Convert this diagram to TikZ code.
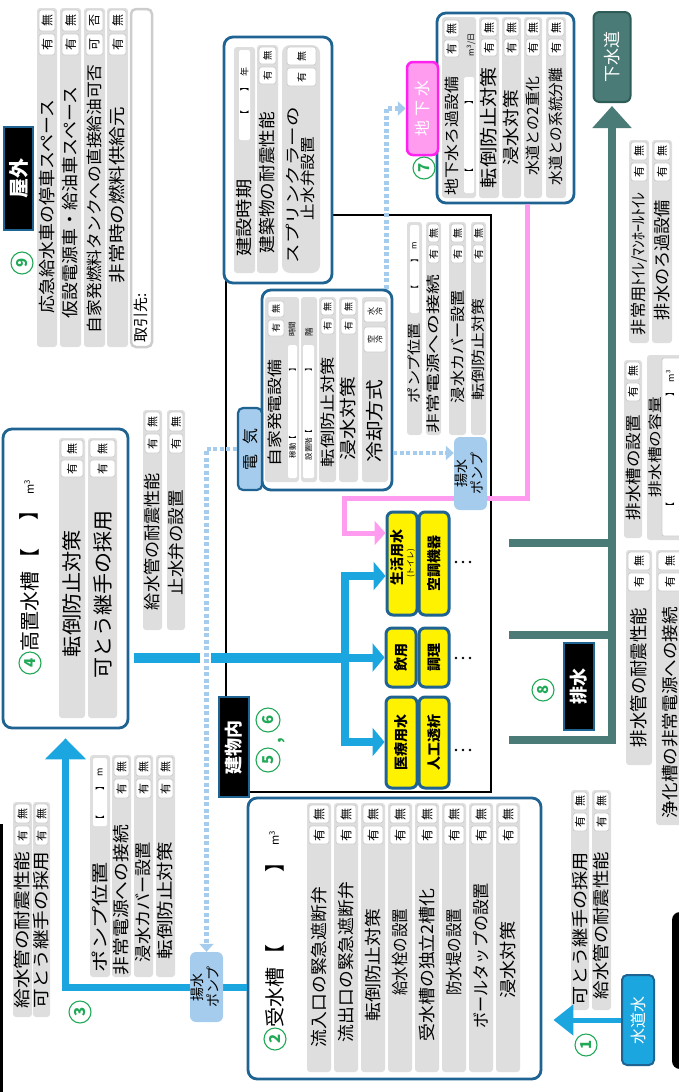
\documentclass[tikz,border=0pt]{standalone}
\usepackage{fontspec}
\setmainfont{Noto Sans CJK JP}
\usetikzlibrary{arrows.meta,calc}
\definecolor{tealb}{HTML}{1E6391}
\definecolor{blu}{HTML}{1CA6DF}
\definecolor{lblu}{HTML}{A5CCEC}
\definecolor{barc}{HTML}{DEDEDE}
\definecolor{ynbc}{HTML}{CDCDCD}
\definecolor{drain}{HTML}{4A7B76}
\definecolor{drainD}{HTML}{2E5D58}
\definecolor{pnk}{HTML}{FF9CF0}
\definecolor{mag}{HTML}{FF22EE}
\definecolor{grn}{HTML}{21A957}
\newcommand\fsz[1]{\fontsize{#1pt}{#1pt}\selectfont}
\newcommand\stx[3]{\resizebox{#1pt}{\height}{\fsz{#2}#3}}
\newcommand\rtx[1]{\rotatebox{90}{#1}}
\def\ynh{18}\def\ynf{9}\def\yesw{有}\def\nowd{無}
\newcommand\ynpair[3]{%
  \draw[ynbx] ({#1},{#3+2}) rectangle ({#2},{#3+2+\ynh});
  \node[rot] at ({(#1+#2)/2},{#3+2+\ynh/2}) {\fsz{\ynf}\nowd};
  \draw[ynbx] ({#1},{#3+5+\ynh}) rectangle ({#2},{#3+5+2*\ynh});
  \node[rot] at ({(#1+#2)/2},{#3+5+1.5*\ynh}) {\fsz{\ynf}\yesw};}
\newcommand\ynbar[8]{%
  \fill[barc, rounded corners=3pt] (#1,#3) rectangle (#2,#4);
  \ynpair{#1+2}{#2-2}{#3}
  \node[rot] at ({(#1+#2)/2},#7) {\stx{#6}{#5}{#8}};}
\tikzset{
  rot/.style={rotate=90, inner sep=0pt},
  frm/.style={draw=tealb, line width=2.8pt, rounded corners=9pt, fill=white, inner sep=0pt},
  lblbox/.style={fill=black, draw=tealb, line width=2.4pt, text=white, inner sep=0pt},
  ybox/.style={draw=tealb, line width=3pt, fill=yellow, rounded corners=6pt, inner sep=0pt},
  pumpbox/.style={fill=lblu, rounded corners=6pt, inner sep=0pt},
  num/.style={circle, draw=grn, line width=1.1pt, text=grn, inner sep=0pt, minimum size=22pt, rotate=90, font=\bfseries\fsz{15}},
  ynbx/.style={fill=white, draw=ynbc, line width=0.8pt, rounded corners=2.5pt},
  elec/.style={draw=lblu, line width=4.5pt, dash pattern=on 4pt off 2.5pt},
  bline/.style={draw=blu, line width=#1},
  arw/.style args={#1/#2}{-{Triangle[length=#1pt,width=#2pt]}},
}
\begin{document}
\begin{tikzpicture}[x=1pt,y=-1pt]
\useasboundingbox (0,0) rectangle (679,1092);
% edge artifacts
\draw[line width=3pt] (1.5,824) -- (1.5,1092);
\fill[rounded corners=8pt] (672,912) rectangle (700,1069);

% ===== 9 outdoor
\node[lblbox, minimum width=29pt, minimum height=103pt] (okugai) at (18.5,178.5) {\rtx{\fsz{20}\bfseries 屋外}};
\node[num] (n9) at (22,263) {9};
\def\ynh{21}\def\ynf{12}
\ynbar{37}{57}{8}{347}{17}{213}{206.5}{応急給水車の停車スペース}
\ynbar{60}{81}{8}{347}{17}{231}{202.5}{仮設電源車・給油車スペース}
\def\yesw{可}\def\nowd{否}
\ynbar{84}{105}{8}{347}{16}{268}{199}{自家発燃料タンクへの直接給油可否}
\def\yesw{有}\def\nowd{無}
\ynbar{107}{128}{8}{347}{17}{176}{195}{非常時の燃料供給元}
\draw[draw=ynbc, line width=2.5pt, fill=white, rounded corners=5pt] (131,9) rectangle (152,347);
\node[rot] (tori) at (141,318) {\fsz{15}取引先:};

% ===== building
\draw[line width=2.5pt] (226,215) rectangle (491,792);
\node[frm, minimum width=108pt, minimum height=246pt] (settei) at (278,160) {};
\fill[barc, rounded corners=3pt] (234,47) rectangle (255,273);
\fill[white, rounded corners=2pt] (239,50) rectangle (250,140);
\node[rot] at (244.5,72) {\fsz{9}年};
\node[rot] at (244.5,87) {\fsz{9}】};
\node[rot] at (244.5,115) {\fsz{9}【};
\node[rot] at (244.5,218) {\stx{77}{17}{建設時期}};
\def\ynh{17}\def\ynf{9.5}
\ynbar{257}{278}{45}{273}{17}{141}{182.5}{建築物の耐震性能}
\fill[barc, rounded corners=8pt] (282,45) rectangle (320,273);
\def\ynh{18}\def\ynf{10}
\ynpair{287}{316}{45}
\node[rot] at (293,185) {\stx{156}{15}{スプリンクラーの}};
\node[rot] at (308,178.5) {\stx{83}{15}{止水弁設置}};

\node[lblbox, minimum width=30pt, minimum height=100pt] (tatemono) at (234,747) {\rtx{\fsz{18}\bfseries 建物内}};
\node[num, minimum size=24pt] (n6) at (268,720) {6};
\node[num, minimum size=24pt] (n5) at (268,760) {5};
\node[rot, text=grn] (comma) at (282,741) {\fsz{16}\bfseries ,};

% generator
\node[frm, minimum width=130pt, minimum height=200pt] (gen) at (327,390) {};
\node[draw=tealb, line width=2.2pt, fill=lblu, rounded corners=5pt, minimum width=24pt, minimum height=82pt, inner sep=0pt] (denki) at (250,449) {\rtx{\fsz{16}電\hspace{10pt}気}};
\fill[barc, rounded corners=3pt] (265,297) rectangle (299,482);
\def\ynh{16}\def\ynf{9}
\ynpair{268}{284}{299}
\node[rot] at (275,413) {\stx{107}{15}{自家発電設備}};
\node[rot] at (292,329) {\fsz{7.5}時間};
\fill[white, rounded corners=1.5pt] (288,345) rectangle (297,478);
\node[rot] at (292.5,368) {\fsz{7.5}】};
\node[rot] at (292.5,447) {\fsz{7.5}稼動【};
\fill[barc, rounded corners=3pt] (301,297) rectangle (317,482);
\node[rot] at (309,332) {\fsz{8.5}階};
\fill[white, rounded corners=1.5pt] (303,345) rectangle (314,478);
\node[rot] at (308.5,368) {\fsz{7.5}】};
\node[rot] at (308.5,445) {\fsz{7.5}設置階【};
\ynbar{319}{336}{297}{482}{15}{110}{412}{転倒防止対策}
\ynbar{339}{358}{297}{482}{17}{83}{418.5}{浸水対策}
\fill[barc, rounded corners=3pt] (362,297) rectangle (388,482);
\draw[ynbx] (364,301) rectangle (386,322);
\node[rot, align=center, font=\fsz{8}] at (375,311.5) {水\\冷};
\draw[ynbx] (364,327) rectangle (386,352);
\node[rot, align=center, font=\fsz{8}] at (375,339.5) {空\\冷};
\node[rot] at (375,421) {\stx{83}{18}{冷却方式}};

% building pump group
\def\ynh{18}\def\ynf{10}
\fill[barc, rounded corners=3pt] (407,222) rectangle (422,435);
\fill[white, rounded corners=1.5pt] (410,225) rectangle (419,313);
\node[rot] at (414.5,246) {\fsz{8}m};
\node[rot] at (414.5,258) {\fsz{8}】};
\node[rot] at (414.5,289) {\fsz{8}【};
\node[rot] at (414.5,363) {\stx{80}{14}{ポンプ位置}};
\ynbar{426}{441}{222}{435}{14}{158}{354}{非常電源への接続}
\ynbar{449}{466}{222}{435}{15}{113}{346.5}{浸水カバー設置}
\ynbar{471}{486}{222}{435}{14}{102}{349}{転倒防止対策}

% yellow boxes
\node[ybox, minimum width=30pt, minimum height=103pt] (y1) at (402,563.5) {};
\node[rot] (y1a) at (397,557) {\fsz{14}\bfseries 生活用水};
\node[rot] (y1b) at (411,563) {\fsz{8}(トイレ)};
\node[ybox, minimum width=30pt, minimum height=103pt] (y2) at (434,563.5) {\rtx{\fsz{14}\bfseries 空調機器}};
\node[ybox, minimum width=30pt, minimum height=59pt] (y3) at (401,657.5) {\rtx{\fsz{14}\bfseries 飲用}};
\node[ybox, minimum width=30pt, minimum height=59pt] (y4) at (434,657.5) {\rtx{\fsz{14}\bfseries 調理}};
\node[ybox, minimum width=31pt, minimum height=91pt] (y5) at (401.5,742.5) {\rtx{\fsz{14}\bfseries 医療用水}};
\node[ybox, minimum width=30pt, minimum height=91pt] (y6) at (434,742.5) {\rtx{\fsz{14}\bfseries 人工透析}};
\foreach \yy in {562,658,750} { \foreach \xx in {456,463,470} { \fill (\xx,\yy) circle (1.4pt); } }

% ===== 7 groundwater
\node[frm, minimum width=137pt, minimum height=190pt] (chika) at (505.5,108) {};
\def\ynh{17}\def\ynf{11}
\fill[barc, rounded corners=3pt] (442,17) rectangle (476,198);
\ynpair{444}{459}{18}
\fill[white, rounded corners=1.5pt] (464,77) rectangle (474,193);
\node[rot] at (469,173) {\fsz{9}【};
\node[rot] at (469,100) {\fsz{9}】};
\node[rot] at (471,45) {\fsz{8}m\textsuperscript{3}/日};
\node[rot] at (452,136) {\stx{118}{15}{地下水ろ過設備}};
\ynbar{479}{499}{17}{198}{18}{121}{127.5}{転倒防止対策}
\ynbar{502}{521}{17}{198}{17}{75}{127.5}{浸水対策}
\ynbar{524}{542}{17}{198}{15}{98}{126}{水道との2重化}
\ynbar{546}{566}{17}{198}{15}{117}{126.5}{水道との系統分離}
\node[fill=pnk, draw=mag, line width=2.5pt, rounded corners=6pt, minimum width=31pt, minimum height=93pt, inner sep=0pt] (chikasui) at (422.5,108.5) {\rtx{\fsz{16}\color{white}地\hspace{4pt}下\hspace{4pt}水}};
\node[num] (n7) at (424,168) {7};

% ===== 8 drainage
\node[fill=drain, draw=drainD, line width=2pt, rounded corners=6pt, minimum width=37pt, minimum height=90pt, inner sep=0pt, text=white] (gesui) at (612,57) {\rtx{\fsz{17}下水道}};
\coordinate (d1) at (509,543); \coordinate (d2) at (509,635); \coordinate (d3) at (509,740);
\draw[draw=drain, line width=8pt, arw=22/38] (d3) -| ($(gesui.south)+(0,3)$);
\draw[draw=drain, line width=8pt] (d1) -- (d1 -| gesui.south);
\draw[draw=drain, line width=8pt] (d2) -- (d2 -| gesui.south);
\node[lblbox, minimum width=30pt, minimum height=87pt] (haisui) at (579,686.5) {\rtx{\fsz{18}\bfseries 排水}};
\node[num] (n8) at (543,690) {8};
\def\ynh{18}\def\ynf{11}
\ynbar{629}{649}{140}{343}{16}{143}{263.5}{非常用ﾄｲﾚ/ﾏﾝﾎｰﾙﾄｲﾚ}
\ynbar{652}{672}{140}{343}{17}{120}{260}{排水のろ過設備}
\ynbar{624}{642}{360}{538}{16}{105}{467.5}{排水槽の設置}
\fill[barc, rounded corners=3pt] (647,355) rectangle (690,540);
\draw[fill=white, draw=ynbc, line width=0.8pt, rounded corners=2pt] (662,358) rectangle (685,536);
\node[rot] at (670,376) {\fsz{9}m\textsuperscript{3}};
\node[rot] at (670,392) {\fsz{9}】};
\node[rot] at (670,507) {\fsz{9}【};
\node[rot] at (655,447) {\stx{100}{14}{排水槽の容量}};
\ynbar{626}{652}{550}{765}{18}{139}{677.5}{排水管の耐震性能}
\ynbar{656}{684}{550}{825}{17}{211}{712.5}{浄化槽の非常電源への接続}

% ===== 2 receiving tank
\node[frm, minimum width=293pt, minimum height=281pt] (jusui) at (394.5,938.5) {};
\node[num] (n2) at (275,1039) {2};
\node[rot, anchor=west] (jt) at (275,1028) {\fsz{20}受水槽\hspace{3pt}【};
\node[rot] at (275,862) {\fsz{20}】};
\node[rot] at (274,838) {\fsz{11}m\textsuperscript{3}};
\def\ynh{18}\def\ynf{12}
\ynbar{307}{331}{803}{1072}{17}{160}{967}{流入口の緊急遮断弁}
\ynbar{334}{358}{803}{1072}{17}{160}{962}{流出口の緊急遮断弁}
\ynbar{361}{385}{803}{1072}{17}{113}{965}{転倒防止対策}
\ynbar{388}{412}{803}{1072}{17}{87}{952}{給水栓の設置}
\ynbar{415}{439}{803}{1072}{17}{153}{965}{受水槽の独立2槽化}
\ynbar{442}{466}{803}{1072}{17}{87}{952}{防水堤の設置}
\ynbar{469}{493}{803}{1072}{17}{145}{956}{ボールタップの設置}
\ynbar{496}{520}{803}{1072}{17}{77}{960}{浸水対策}

% ===== 3 pump group
\def\ynh{19}\def\ynf{11}
\fill[barc, rounded corners=3pt] (90,755) rectangle (110,977);
\fill[white, rounded corners=1.5pt] (93,758) rectangle (107,826);
\node[rot] at (100,772) {\fsz{9}m};
\node[rot] at (100,786) {\fsz{9}】};
\node[rot] at (100,820) {\fsz{9}【};
\node[rot] at (100,917) {\stx{110}{17}{ポンプ位置}};
\ynbar{112}{131}{755}{977}{17}{150}{900}{非常電源への接続}
\ynbar{134}{153}{755}{977}{17}{120}{902}{浸水カバー設置}
\ynbar{156}{175}{755}{977}{17}{117}{900.5}{転倒防止対策}
\ynbar{13}{32}{802}{1017}{17}{157}{930}{給水管の耐震性能}
\ynbar{33}{50}{802}{1017}{17}{157}{930}{可とう継手の採用}
\node[num] (n3) at (80,1012) {3};

% ===== 4 elevated tank
\node[frm, minimum width=125pt, minimum height=299pt] (koki) at (65.5,578.5) {};
\node[num] (n4) at (30,663) {4};
\node[rot, anchor=west] (kt) at (30,652) {\fsz{20}高置水槽\hspace{3pt}【};
\node[rot] at (29,510) {\fsz{20}】};
\node[rot] at (29,487) {\fsz{11}m\textsuperscript{3}};
\def\ynh{17}\def\ynf{11}
\ynbar{59}{85}{438}{718}{20}{127}{593.5}{転倒防止対策}
\ynbar{88}{117}{438}{718}{20}{168}{594}{可とう継手の採用}
\def\ynh{19}
\ynbar{143}{162}{410}{630}{17}{137}{541.5}{給水管の耐震性能}
\ynbar{167}{185}{410}{630}{17}{105}{542.5}{止水弁の設置}

% ===== 1 city water
\node[fill=blu, draw=tealb, line width=2pt, rounded corners=5pt, minimum width=32pt, minimum height=90pt, inner sep=0pt, text=white] (suido) at (638,1020) {\rtx{\fsz{16}水道水}};
\node[num] (n1) at (586,1045) {1};
\def\ynh{18}
\ynbar{571}{589}{790}{1010}{17}{153}{928.5}{可とう継手の採用}
\ynbar{592}{611}{790}{1010}{17}{147}{925.5}{給水管の耐震性能}

% ===== connectors
\draw[bline=5pt, arw=20/30] (suido.west) -- ($(jusui.east |- suido.west)+(11,0)$);
\coordinate (p3) at (206.5,987);
\draw[bline=7pt, arw=21/40] (jusui.west |- p3) -| ($(koki.south)+(0,9)$);
\coordinate (m0) at ($(koki.east |- y3.west)+(5,0)$);
\coordinate (b1) at (345,576); \coordinate (b2) at (345,657.5); \coordinate (b3) at (345,742);
\draw[bline=10pt] (m0) -- (b2);
\draw[bline=8pt, line cap=rect] (b1) -- (b3);
\draw[bline=8pt, arw=12/28] (b1) -- (b1 -| y1.west);
\draw[bline=8pt, arw=12/28] (b2) -- (b2 -| y3.west);
\draw[bline=8pt, arw=12/28] (b3) -- (b3 -| y5.west);
\coordinate (pk1) at ($(chika.south)+(21.5,0)$);
\coordinate (pk2) at (344,498);
\coordinate (pk3) at (344,533);
\draw[draw=pnk, line width=5pt, arw=11/24] (pk1) |- (pk2) -- (pk3) -- (pk3 -| y1.west);

% pumps
\node[pumpbox, minimum width=33pt, minimum height=70pt] (pumpA) at (p3) {\rtx{\fsz{14}\begin{tabular}{@{}c@{}}揚水\\ポンプ\end{tabular}}};
\node[pumpbox, minimum width=33pt, minimum height=73pt] (pumpB) at (470.5,473.5) {\rtx{\fsz{14}\begin{tabular}{@{}c@{}}揚水\\ポンプ\end{tabular}}};

% electric supply (dotted)
\fill[white] (200,645) rectangle (211,668);
\draw[elec, arw=8/14] (denki.west) -| (pumpA.north);
\draw[elec, arw=8/14] ($(gen.north east)+(-7,0)$) |- (chikasui.west);
\coordinate (e3) at ($(gen.east)+(0,63)$);
\draw[elec, arw=8/14] (e3) -- (e3 -| pumpB.west);
\end{tikzpicture}
\end{document}
